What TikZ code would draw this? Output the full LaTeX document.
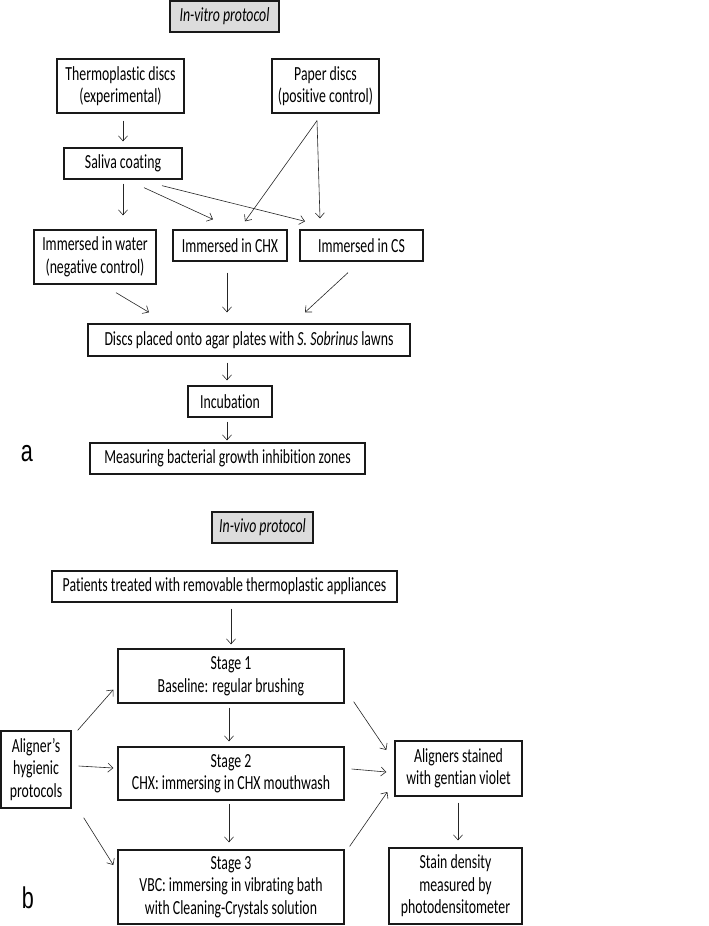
\documentclass[tikz,border=0pt]{standalone}
\usepackage{fontspec}
\setmainfont{Carlito}[FakeStretch=0.69,Ligatures=NoCommon]
\newfontfamily\labfont{Liberation Sans}[FakeStretch=0.72]
\usetikzlibrary{arrows.meta,calc}
\definecolor{titlegray}{HTML}{DCDCDC}
\begin{document}
\begin{tikzpicture}[x=1pt,y=-1pt,
  box/.style={draw=black!90,line width=1.3pt,inner sep=0pt,align=center,
    font=\fontsize{20}{22.5}\selectfont},
  titlebox/.style={box,fill=titlegray,font=\fontsize{20}{22.5}\selectfont\itshape},
  arr/.style={draw=black!85,line width=0.6pt,-{Straight Barb[length=5pt,width=9pt,line width=0.6pt]}},
  lab/.style={font=\labfont\fontsize{30}{32}\selectfont,inner sep=0pt}]
\useasboundingbox (0,0) rectangle (709,926);
% ---- part a
\node[titlebox,minimum width=109,minimum height=31] (vitro) at (224.5,16.5) {In-vitro protocol};
\node[box,minimum width=127,minimum height=54] (thermo) at (120.5,86) {Thermoplastic discs\\(experimental)};
\node[box,minimum width=107,minimum height=54] (paper) at (325.5,86) {Paper discs\\(positive control)};
\node[box,minimum width=118,minimum height=31] (saliva) at (123,163.5) {Saliva coating};
\node[box,minimum width=122,minimum height=54] (water) at (95,257) {Immersed in water\\(negative control)};
\node[box,minimum width=114,minimum height=31] (chx) at (230,245.5) {Immersed in CHX};
\node[box,minimum width=123,minimum height=31] (cs) at (361.5,245.5) {Immersed in CS};
\node[box,minimum width=322,minimum height=32] (discs) at (249,340) {Discs placed onto agar plates with \textit{S. Sobrinus} lawns};
\node[box,minimum width=84,minimum height=31] (incub) at (230,401.5) {Incubation};
\node[box,minimum width=275,minimum height=31] (meas) at (227.5,458.5) {Measuring bacterial growth inhibition zones};
\node[lab] (la) at (27,454) {a};
\draw[arr] ($(thermo.south)+(2.5,7)$) -- ($(saliva.north)+(0,-6)$);
\draw[arr] ($(saliva.south)+(0,4)$) -- ($(water.north)+(28,-14)$);
\draw[arr] ($(saliva.south)+(21,8)$) -- ($(chx.north)+(-17,-10)$);
\draw[arr] ($(saliva.south)+(39,6)$) -- ($(cs.north)+(-56.5,-8)$);
\draw[arr] ($(paper.south)+(-8.5,7)$) -- ($(chx.north)+(15,-8)$);
\draw[arr] ($(paper.south)+(-8.5,7)$) -- ($(cs.north)+(-41.5,-11)$);
\draw[arr] ($(water.south)+(21,8)$) -- ($(discs.north)+(-100,-11)$);
\draw[arr] ($(chx.south)+(-3,11)$) -- ($(discs.north)+(-22,-11)$);
\draw[arr] ($(cs.south)+(-13.5,11)$) -- ($(discs.north)+(56,-11)$);
\draw[arr] ($(discs.south)+(-22,6)$) -- ($(incub.north)+(-3,-5)$);
\draw[arr] ($(incub.south)+(-3,4)$) -- ($(meas.north)+(-0.5,-2)$);
% ---- part b
\node[titlebox,minimum width=101,minimum height=31] (vivo) at (262.5,527.5) {In-vivo protocol};
\node[box,minimum width=345,minimum height=31] (patients) at (224.5,586.5) {Patients treated with removable thermoplastic appliances};
\node[box,minimum width=226,minimum height=54] (s1) at (231,676) {Stage 1\\Baseline: regular brushing};
\node[box,minimum width=226,minimum height=53] (s2) at (231,773.5) {Stage 2\\CHX: immersing in CHX mouthwash};
\node[box,minimum width=226,minimum height=74] (s3) at (231,887) {Stage 3\\VBC: immersing in vibrating bath\\with Cleaning-Crystals solution};
\node[box,minimum width=70,minimum height=77] (align) at (36,769.5) {Aligner’s\\hygienic\\protocols};
\node[box,minimum width=127,minimum height=55] (stained) at (458.5,768.5) {Aligners stained\\with gentian violet};
\node[box,minimum width=133,minimum height=76] (stain) at (455.5,886) {Stain density\\measured by\\photodensitometer};
\node[lab] (lb) at (28,898) {b};
\draw[arr] ($(patients.south)+(6.5,6)$) -- ($(s1.north)+(0,-4)$);
\draw[arr] ($(s1.south)+(-2,4)$) -- ($(s2.north)+(-2,-5)$);
\draw[arr] ($(s2.south)+(-2,3)$) -- ($(s3.north)+(-2,-7)$);
\draw[arr] ($(align.north east)+(6,0)$) -- ($(s1.south west)+(-4,-14)$);
\draw[arr] ($(align.east)+(7,-3.5)$) -- ($(s2.west)+(-4,-5.5)$);
\draw[arr] ($(align.south east)+(12,9)$) -- ($(s3.west)+(-4,-22)$);
\draw[arr] ($(s1.south east)+(9,-2)$) -- ($(stained.west)+(-8,-18.5)$);
\draw[arr] ($(s2.east)+(7,-4.5)$) -- ($(stained.west)+(-8,3.5)$);
\draw[arr] ($(s3.north east)+(5,-3)$) -- ($(stained.west)+(-7,23.5)$);
\draw[arr] ($(stained.south)+(-0.5,6)$) -- ($(stain.north)+(2.5,-7)$);
\end{tikzpicture}
\end{document}
